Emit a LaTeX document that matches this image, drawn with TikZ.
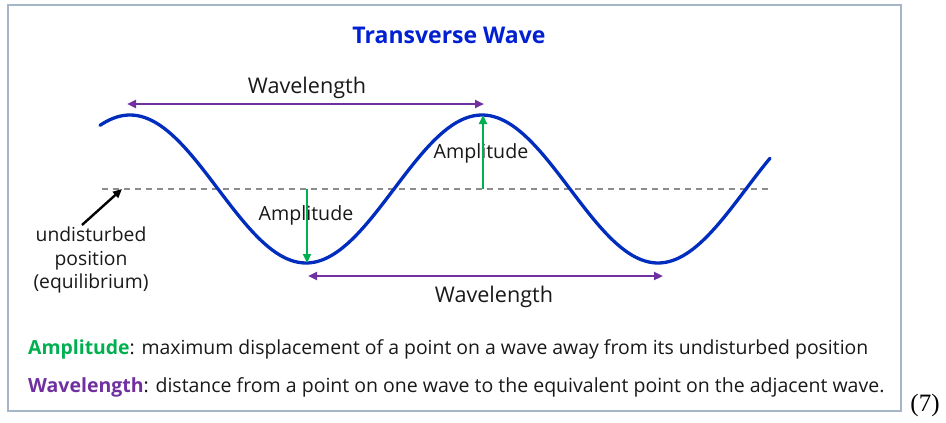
\documentclass[tikz,border=0pt]{standalone}
\usepackage{fontspec}
\setmainfont{Open Sans}
\newfontfamily\serifnum{Liberation Serif}
\usetikzlibrary{arrows.meta}
\definecolor{titleblue}{RGB}{0,32,210}
\definecolor{waveblue}{RGB}{0,45,190}
\definecolor{wlpurple}{RGB}{112,48,160}
\definecolor{ampgreen}{RGB}{0,176,80}
\definecolor{framegray}{RGB}{165,182,200}
\definecolor{txt}{RGB}{25,25,25}
\definecolor{dashgray}{RGB}{140,140,140}
\tikzset{
  lbl/.style={font=\fontsize{19.6}{23}\selectfont, text=txt, inner sep=0pt},
  wllbl/.style={font=\fontsize{21.6}{25}\selectfont, text=txt, inner sep=0pt},
  wlarrow/.style={draw=wlpurple, line width=2.6pt, {Triangle[length=9pt,width=8pt]}-{Triangle[length=9pt,width=8pt]}},
  amparrow/.style={draw=ampgreen, line width=2.6pt, -{Triangle[length=9pt,width=8pt]}},
  deftext/.style={font=\fontsize{19.4}{22}\selectfont, text=txt, inner sep=0pt, anchor=west}
}
\begin{document}
\begin{tikzpicture}[x=1pt,y=-1pt]
\useasboundingbox (0,0) rectangle (946,423);
\fill[white] (0,0) rectangle (946,423);
\draw[framegray, line width=1.2pt] (8,5) rectangle (901,411);
\node[font=\bfseries\fontsize{23}{26}\selectfont, text=titleblue] (title) at (449,35) {Transverse Wave};
% equilibrium line
\coordinate (eqL) at (102,189);
\coordinate (eqR) at (768,189);
\draw[dashgray, line width=1.6pt, dash pattern=on 6pt off 5pt] (eqL) -- (eqR);
% wave
\draw[waveblue, line width=3.3pt, line cap=round] plot[domain=100:770, samples=200, smooth] (\x,{189-74*cos((\x-130)/352*360)});
% key points
\coordinate (trough1) at (307,263);
\coordinate (crest2) at (483,115);
\coordinate (eq1) at (307,189);
\coordinate (eq2) at (483,189);
% wavelength arrows
\coordinate (wlA1) at (127,104);
\coordinate (wlA2) at (484,104);
\draw[wlarrow] (wlA1) -- (wlA2);
\node[wllbl] (wltop) at (307,88) {Wavelength};
\coordinate (wlB1) at (308,276);
\coordinate (wlB2) at (663,276);
\draw[wlarrow] (wlB1) -- (wlB2);
\node[wllbl] (wlbot) at (494,297) {Wavelength};
% amplitude labels and arrows
\node[lbl] (amp1) at (306,215) {Amplitude};
\node[lbl] (amp2) at (481,153) {Amplitude};
\draw[amparrow] (eq1) -- (trough1);
\draw[amparrow] (eq2) -- (crest2);
% undisturbed
\node[lbl, align=center, font=\fontsize{19.3}{23.5}\selectfont] (undist) at (91,260) {undisturbed\\position\\(equilibrium)};
\coordinate (eqpt) at (122,189);
\coordinate (undstart) at (82,225);
\draw[black, line width=2.4pt, -{Triangle[length=9pt,width=8pt]}] (undstart) -- (eqpt);
% definitions
\node[deftext] (defamp) at (28,349) {\textcolor{ampgreen}{\bfseries Amplitude}: maximum displacement of a point on a wave away from its undisturbed position};
\node[deftext, font=\fontsize{19.5}{22}\selectfont] (defwl) at (28,387) {\textcolor{wlpurple}{\bfseries Wavelength}: distance from a point on one wave to the equivalent point on the adjacent wave.};
\node[font=\serifnum\fontsize{25}{28}\selectfont, inner sep=0pt] (num) at (925,405) {(7)};
\end{tikzpicture}
\end{document}
